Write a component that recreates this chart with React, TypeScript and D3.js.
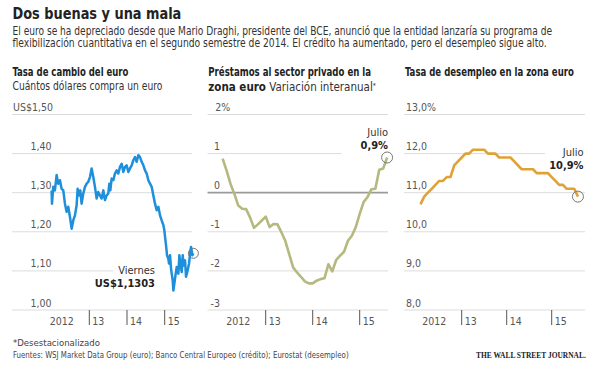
import React, { useLayoutEffect, useRef } from "react";
import * as d3 from "d3";

// ---------- DATA ----------
// Panel 1: EUR/USD (fractional year, value)
const fxDates = [
  2012.0, 2012.01, 2012.044, 2012.088, 2012.133, 2012.177, 2012.221, 2012.265, 2012.31, 2012.354,
  2012.398, 2012.442, 2012.487, 2012.531, 2012.575, 2012.619, 2012.664, 2012.69, 2012.726, 2012.761,
  2012.796, 2012.841, 2012.885, 2012.929, 2012.973, 2013.018, 2013.062, 2013.106, 2013.15, 2013.195,
  2013.239, 2013.283, 2013.327, 2013.372, 2013.416, 2013.46, 2013.504, 2013.531, 2013.558, 2013.593,
  2013.637, 2013.681, 2013.726, 2013.77, 2013.814, 2013.858, 2013.903, 2013.947, 2013.991, 2014.035,
  2014.08, 2014.124, 2014.168, 2014.212, 2014.257, 2014.301, 2014.345, 2014.389, 2014.434, 2014.478,
  2014.522, 2014.566, 2014.611, 2014.655, 2014.699, 2014.743, 2014.788, 2014.832, 2014.876, 2014.92,
  2014.965, 2014.991, 2015.009, 2015.035, 2015.062, 2015.097, 2015.115, 2015.142, 2015.168, 2015.186,
  2015.212, 2015.23, 2015.257, 2015.292, 2015.319, 2015.363, 2015.389, 2015.416, 2015.451, 2015.478,
  2015.504, 2015.54, 2015.566, 2015.611, 2015.646, 2015.673, 2015.699, 2015.735, 2015.761,
];
const fxValues = [
  1.306, 1.272, 1.315, 1.306, 1.345, 1.323, 1.332, 1.31, 1.306, 1.272,
  1.251, 1.264, 1.238, 1.208, 1.229, 1.242, 1.268, 1.31, 1.293, 1.306,
  1.272, 1.298, 1.315, 1.323, 1.328, 1.34, 1.362, 1.34, 1.315, 1.285,
  1.302, 1.293, 1.285, 1.306, 1.281, 1.293, 1.298, 1.323, 1.306, 1.336,
  1.332, 1.349, 1.357, 1.349, 1.366, 1.374, 1.353, 1.366, 1.37, 1.353,
  1.362, 1.37, 1.383, 1.391, 1.379, 1.396, 1.391, 1.379, 1.37, 1.357,
  1.349, 1.332, 1.323, 1.315, 1.293, 1.272, 1.255, 1.264, 1.242, 1.229,
  1.217, 1.204, 1.187, 1.166, 1.14, 1.131, 1.119, 1.14, 1.106, 1.093,
  1.076, 1.05, 1.068, 1.093, 1.11, 1.093, 1.14, 1.119, 1.097, 1.14,
  1.114, 1.127, 1.085, 1.102, 1.119, 1.144, 1.161, 1.14, 1.145,
];

// Panel 2 & 3: monthly, Jan 2012 .. Jul 2015
const monthIndex = d3.range(43); // 0 = Jan 2012
const loanValues = [
  0.87, 0.57, 0.23, -0.03, -0.33, -0.41, -0.42, -0.63, -0.9, -0.81,
  -0.71, -0.61, -0.88, -0.8, -0.81, -1.01, -1.23, -1.57, -1.91, -2.04,
  -2.15, -2.27, -2.32, -2.32, -2.25, -2.21, -2.19, -1.83, -2.01, -1.72,
  -1.61, -1.51, -1.23, -1.1, -0.88, -0.54, -0.24, -0.11, 0.09, 0.1,
  0.59, 0.62, 0.9,
];
const unempValues = [
  10.7, 10.9, 11.0, 11.1, 11.2, 11.3, 11.3, 11.4, 11.4, 11.7,
  11.8, 11.9, 12.0, 12.0, 12.1, 12.1, 12.1, 12.1, 12.0, 12.0,
  12.0, 11.9, 11.9, 11.9, 11.9, 11.8, 11.7, 11.6, 11.6, 11.6,
  11.6, 11.5, 11.5, 11.5, 11.5, 11.4, 11.3, 11.2, 11.2, 11.1,
  11.1, 11.1, 10.9,
];

const fxTicks = [1.0, 1.1, 1.2, 1.3, 1.4, 1.5];
const fxTickLabels = ["1,00", "1,10", "1,20", "1,30", "1,40", "US$1,50"];
const loanTicks = [-3, -2, -1, 0, 1, 2];
const loanTickLabels = ["-3", "-2", "-1", "0", "1", "2%"];
const unempTicks = [8, 9, 10, 11, 12, 13];
const unempTickLabels = ["8,0", "9,0", "10,0", "11,0", "12,0", "13,0%"];
const yearTicks = [2013, 2014, 2015];
const yearLabels = ["13", "14", "15"];

// ---------- STYLE ----------
const FONT = "'Liberation Sans Narrow', 'Arial Narrow', 'DejaVu Sans Condensed', sans-serif";
const TOP = 114.5;
const BOTTOM = 310;

// Text squeezed horizontally (via transform) to a target width
function FitText(props: {
  x: number;
  y: number;
  width: number;
  anchor?: "start" | "end";
  children: React.ReactNode;
  [k: string]: any;
}) {
  const { x, y, width, anchor = "start", children, ...rest } = props;
  const ref = useRef<SVGTextElement>(null);
  useLayoutEffect(() => {
    const el = ref.current;
    if (!el) return;
    el.removeAttribute("transform");
    const len = el.getComputedTextLength();
    if (len > 0) {
      const s = width / len;
      el.setAttribute("transform", `translate(${x} 0) scale(${s} 1) translate(${-x} 0)`);
    }
  }, [x, width]);
  return (
    <text ref={ref} x={x} y={y} textAnchor={anchor} {...rest}>
      {children}
    </text>
  );
}

type PanelProps = {
  x0: number;
  x1: number;
  xs: d3.ScaleLinear<number, number>;
  ys: d3.ScaleLinear<number, number>;
  ticks: number[];
  tickLabels: string[];
  labelX: (i: number) => number;
  labelAnchor: (i: number) => "start" | "end";
  shortLine: number;
  shortEnd: number;
  zeroLine?: number;
};

function Grid(p: PanelProps) {
  return (
    <g>
      {p.ticks.map((t, i) => (
        <g key={t}>
          <line
            x1={p.x0}
            x2={t === p.shortLine ? p.shortEnd : p.x1}
            y1={p.ys(t)}
            y2={p.ys(t)}
            stroke={t === p.zeroLine ? "#9a9a9a" : "#dcdcdc"}
            strokeWidth={t === p.zeroLine ? 1.8 : 1}
          />
          <text
            x={p.labelX(i)}
            y={p.ys(t) - 3.5}
            fontSize={10.5}
            fill="#555"
            textAnchor={p.labelAnchor(i)}
          >
            {p.tickLabels[i]}
          </text>
        </g>
      ))}
      {yearTicks.map((y, i) => (
        <g key={y}>
          <line x1={p.xs(y)} x2={p.xs(y)} y1={BOTTOM} y2={325} stroke="#555" strokeWidth={1} />
          <text x={p.xs(y) + 3} y={324.5} fontSize={10.5} fill="#555">
            {yearLabels[i]}
          </text>
        </g>
      ))}
      <text x={p.xs(2013) - 39.5} y={324.5} fontSize={10.5} fill="#555">
        2012
      </text>
    </g>
  );
}

export default function App() {
  // Panel 1
  const xs1 = d3.scaleLinear().domain([2013, 2015]).range([89.3, 164.7]);
  const ys1 = d3.scaleLinear().domain([1.0, 1.5]).range([BOTTOM, TOP]);
  const fxPts: [number, number][] = fxDates.map((d, i) => [d, fxValues[i]]);
  const line1 = d3
    .line<[number, number]>()
    .x((d) => xs1(d[0]))
    .y((d) => ys1(d[1]));

  // Panel 2
  const xs2 = d3.scaleLinear().domain([2013, 2015]).range([265.7, 359.7]);
  const ys2 = d3.scaleLinear().domain([-3, 2]).range([BOTTOM, TOP]);
  const line2 = d3
    .line<number>()
    .x((i) => xs2(2012 + (i + 1) / 12))
    .y((i) => ys2(loanValues[i]));

  // Panel 3
  const xs3 = d3.scaleLinear().domain([2013, 2015]).range([461.7, 551.7]);
  const ys3 = d3.scaleLinear().domain([8, 13]).range([BOTTOM, TOP]);
  const line3 = d3
    .line<number>()
    .x((i) => xs3(2012 + (i + 1) / 12))
    .y((i) => ys3(unempValues[i]));

  const last = monthIndex.length - 1;
  const fxLast = fxPts[fxPts.length - 1];

  return (
    <div style={{ position: "absolute", left: 0, top: 0 }}>
      <svg width={600} height={370} style={{ display: "block", fontFamily: FONT }}>
        <rect width={600} height={370} fill="#fff" />
        {/* Titles */}
        <FitText x={12.5} y={19.5} width={169} fontSize={16.5} fontWeight="bold" fill="#222">
          Dos buenas y una mala
        </FitText>
        <FitText x={12.5} y={35} width={540} fontSize={11.5} fill="#333">
          El euro se ha depreciado desde que Mario Draghi, presidente del BCE, anunció que la entidad lanzaría su programa de
        </FitText>
        <FitText x={12.5} y={47.5} width={535} fontSize={11.5} fill="#333">
          flexibilización cuantitativa en el segundo semestre de 2014. El crédito ha aumentado, pero el desempleo sigue alto.
        </FitText>

        {/* Panel titles */}
        <FitText x={12.5} y={76.5} width={116} fontSize={11.5} fontWeight="bold" fill="#222">
          Tasa de cambio del euro
        </FitText>
        <FitText x={12.5} y={90.5} width={150} fontSize={11.5} fill="#333">
          Cuántos dólares compra un euro
        </FitText>
        <FitText x={208.3} y={76.5} width={163} fontSize={11.5} fontWeight="bold" fill="#222">
          Préstamos al sector privado en la
        </FitText>
        <text x={208.3} y={90.5} fontSize={11.5} fill="#333">
          <tspan fontWeight="bold" fill="#222">zona euro</tspan>
          <tspan> Variación interanual</tspan>
          <tspan fontSize={7} dy={-3}>*</tspan>
        </text>
        <FitText x={405} y={76.5} width={169} fontSize={11.5} fontWeight="bold" fill="#222">
          Tasa de desempleo en la zona euro
        </FitText>

        {/* Panel 1 */}
        <Grid
          x0={12}
          x1={192}
          xs={xs1}
          ys={ys1}
          ticks={fxTicks}
          tickLabels={fxTickLabels}
          labelX={(i) => (i === 5 ? 13 : 30.5)}
          labelAnchor={() => "start"}
          shortLine={1.1}
          shortEnd={113}
        />
        <path d={line1(fxPts) || ""} fill="none" stroke="#1e8fda" strokeWidth={2.5} strokeLinejoin="round" />
        <circle cx={xs1(fxLast[0])} cy={ys1(fxLast[1])} r={5} fill="none" stroke="#777" strokeWidth={1} />
        <text x={155} y={274} fontSize={11} fill="#333" textAnchor="end">Viernes</text>
        <text x={155} y={286.5} fontSize={11} fontWeight="bold" fill="#222" textAnchor="end">US$1,1303</text>

        {/* Panel 2 */}
        <Grid
          x0={207.5}
          x1={388}
          xs={xs2}
          ys={ys2}
          ticks={loanTicks}
          tickLabels={loanTickLabels}
          labelX={(i) => (i === 5 ? 215.3 : 220)}
          labelAnchor={(i) => (i === 5 ? "start" : "end")}
          shortLine={1}
          shortEnd={341.7}
          zeroLine={0}
        />
        <path d={line2(monthIndex) || ""} fill="none" stroke="#b6b97f" strokeWidth={2.6} strokeLinejoin="round" />
        <circle cx={xs2(2012 + (last + 1) / 12)} cy={ys2(loanValues[last])} r={5.5} fill="none" stroke="#777" strokeWidth={1} />
        <text x={388} y={135.5} fontSize={11} fill="#333" textAnchor="end">Julio</text>
        <text x={388} y={148.5} fontSize={11} fontWeight="bold" fill="#222" textAnchor="end">0,9%</text>

        {/* Panel 3 */}
        <Grid
          x0={404}
          x1={585}
          xs={xs3}
          ys={ys3}
          ticks={unempTicks}
          tickLabels={unempTickLabels}
          labelX={() => 406}
          labelAnchor={() => "start"}
          shortLine={12}
          shortEnd={545}
        />
        <path d={line3(monthIndex) || ""} fill="none" stroke="#e0a135" strokeWidth={2.6} strokeLinejoin="round" />
        <circle cx={xs3(2012 + (last + 1) / 12)} cy={ys3(unempValues[last])} r={5.5} fill="none" stroke="#777" strokeWidth={1} />
        <text x={583.5} y={155.5} fontSize={11} fill="#333" textAnchor="end">Julio</text>
        <text x={583.5} y={169} fontSize={11} fontWeight="bold" fill="#222" textAnchor="end">10,9%</text>

        {/* Footer */}
        <text x={13} y={345.5} fontSize={9.5} fill="#444">*Desestacionalizado</text>
        <FitText x={13} y={358} width={336} fontSize={9.5} fill="#444">
          Fuentes: WSJ Market Data Group (euro); Banco Central Europeo (crédito); Eurostat (desempleo)
        </FitText>
        <FitText
          x={476}
          y={358}
          width={110}
          fontSize={9}
          fontWeight="bold"
          fill="#222"
          fontFamily="'Liberation Serif', 'DejaVu Serif', serif"
        >
          THE WALL STREET JOURNAL.
        </FitText>
      </svg>
    </div>
  );
}
